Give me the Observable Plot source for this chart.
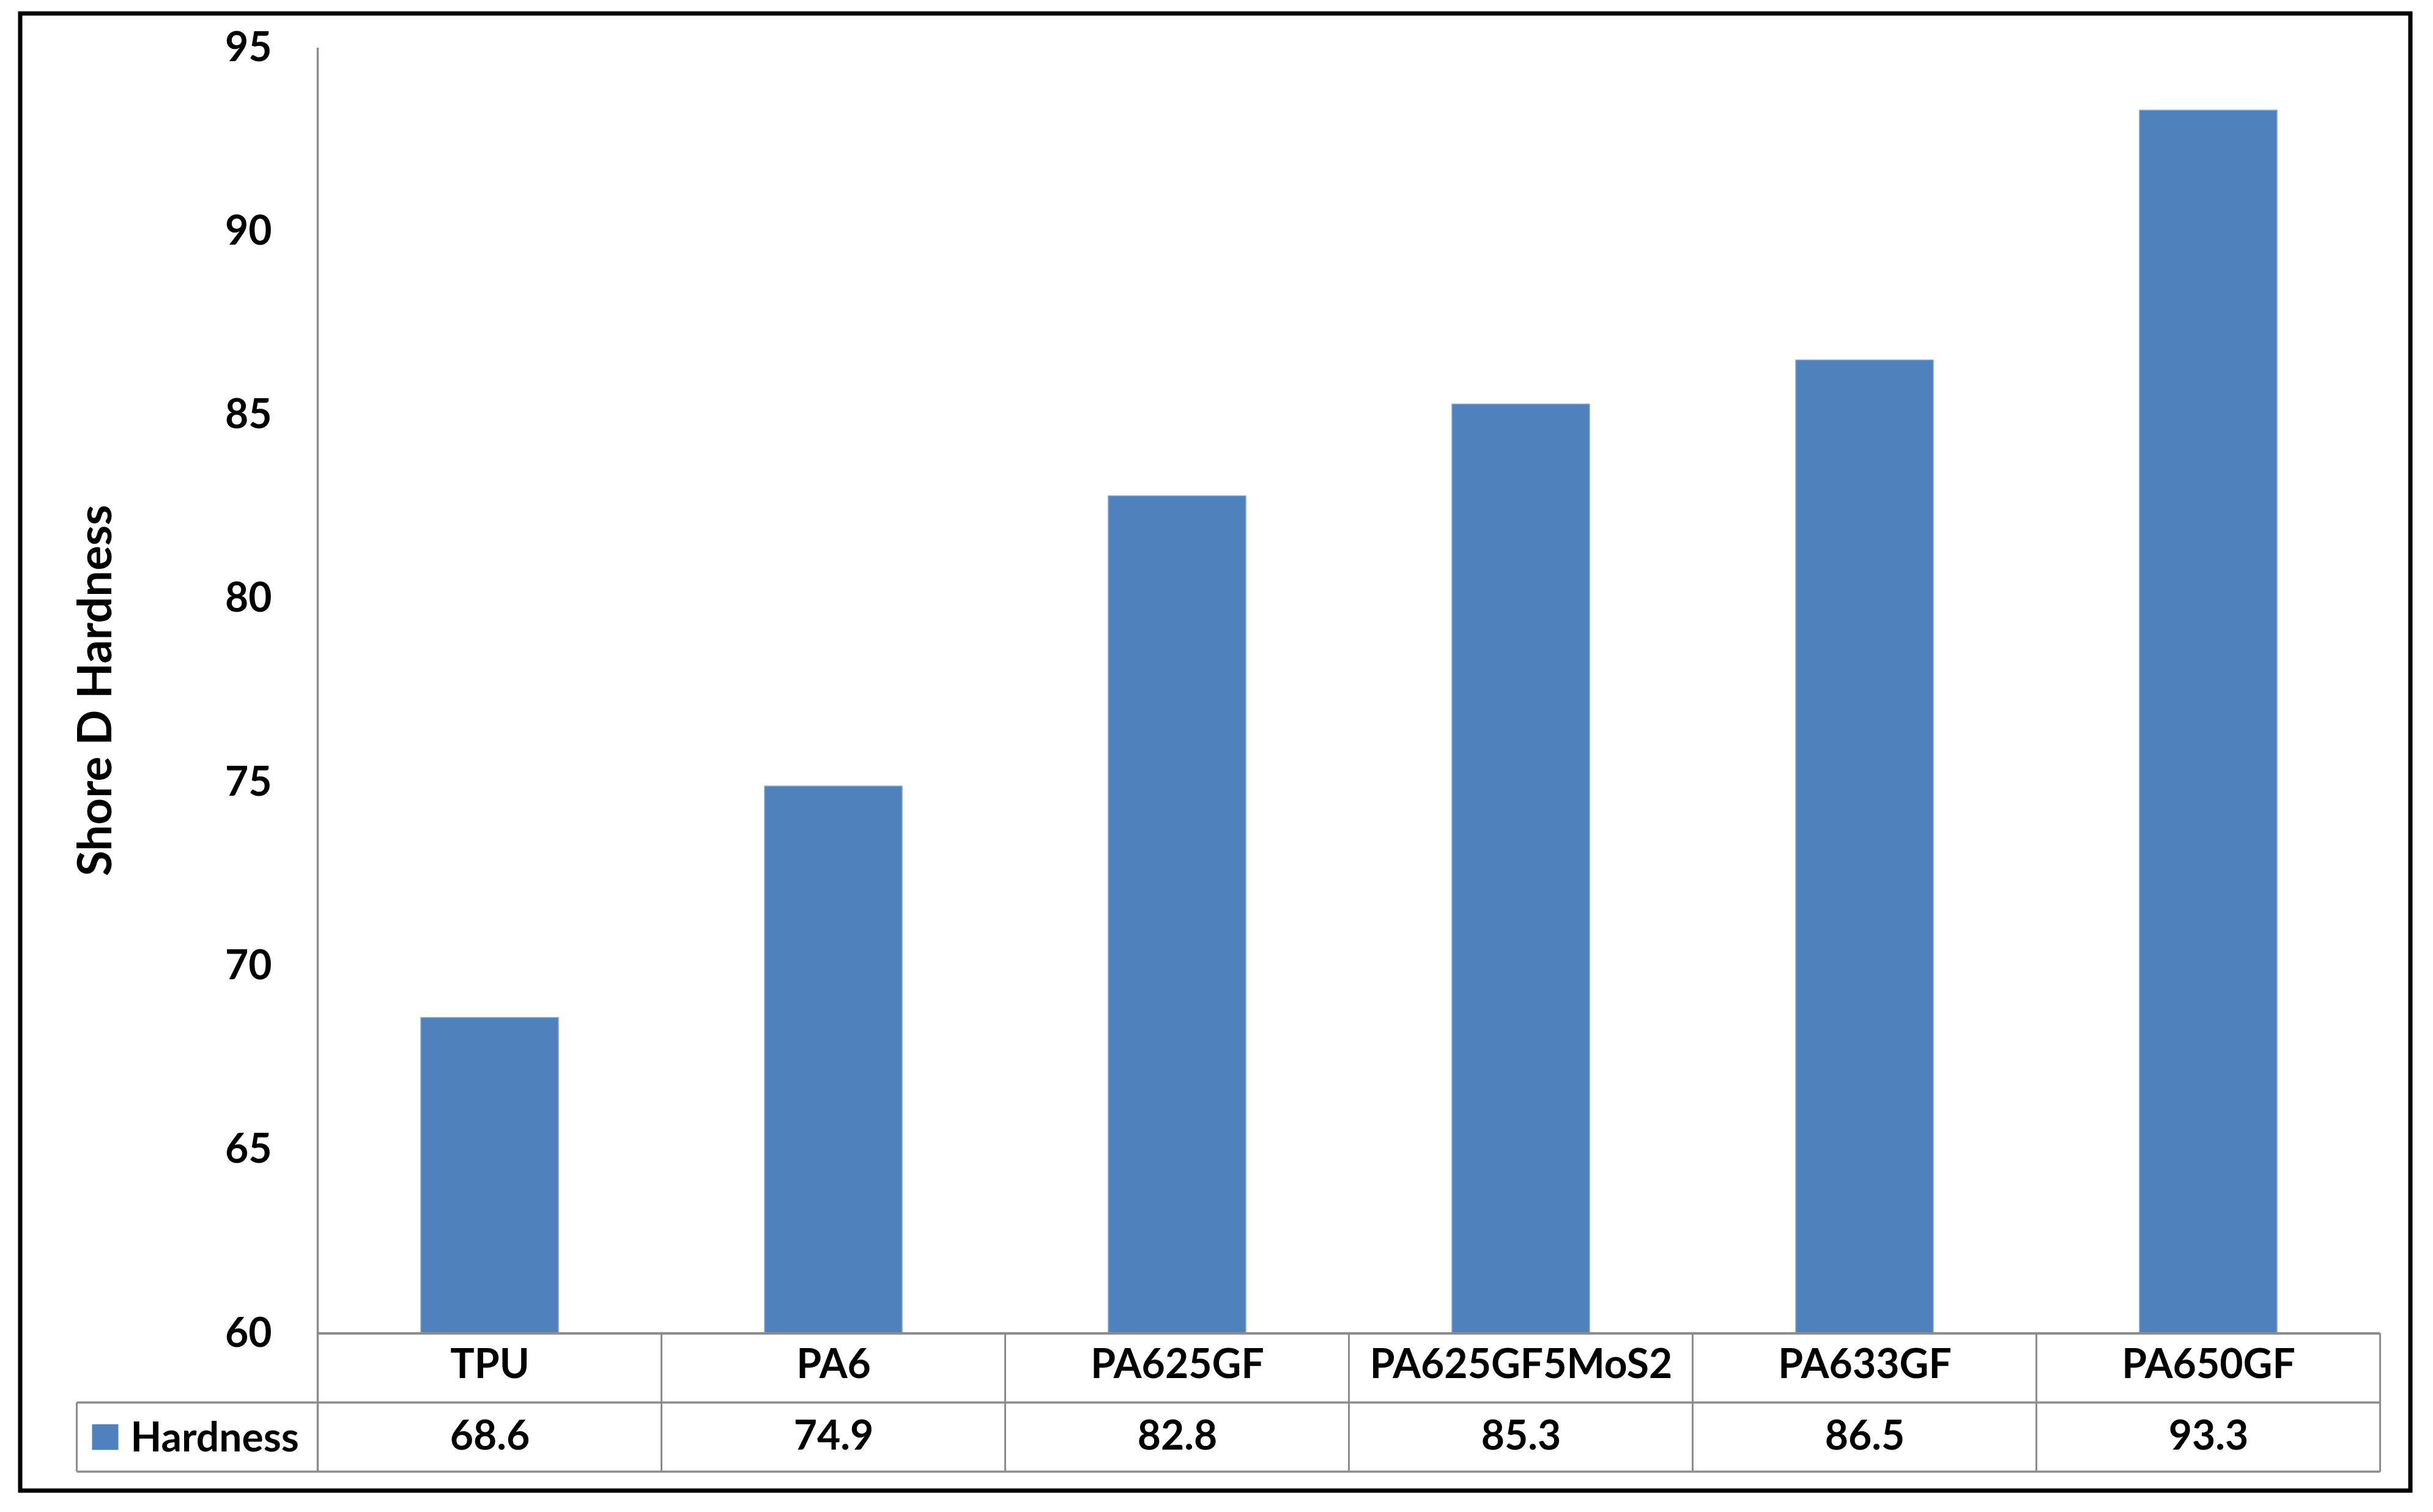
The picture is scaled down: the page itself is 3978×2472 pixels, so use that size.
<!DOCTYPE html>
<html><head><meta charset="utf-8">
<script src="https://cdn.jsdelivr.net/npm/d3@7"></script>
<script src="https://cdn.jsdelivr.net/npm/@observablehq/plot@0.6"></script>
<style>
html,body{margin:0;padding:0;background:#fff;}
#chart{width:3978px;height:2472px;}
svg{overflow:visible;}
</style></head><body><div id="chart"></div>
<script>
// ---- data ----
const categories = ["TPU", "PA6", "PA625GF", "PA625GF5MoS2", "PA633GF", "PA650GF"];
const hardness = [68.6, 74.9, 82.8, 85.3, 86.5, 93.3];
const yTicks = [60, 65, 70, 75, 80, 85, 90, 95];
const yDomain = [60, 95];
const seriesName = "Hardness";
const yLabel = "Shore D Hardness";

const data = categories.map((c, i) => ({category: c, value: hardness[i]}));
const valueOf = new Map(data.map(d => [d.category, d.value]));

// ---- style ----
const W = 3978, H = 2472;
const font = "Lato, 'Open Sans', sans-serif";
const blue = "#4F81BD", lineGray = "#8C8C8C";
const rowH = 113, legendW = 394;

const plot = Plot.plot({
  width: W, height: H,
  marginLeft: 518, marginRight: 86, marginTop: 78, marginBottom: 292,
  style: {fontFamily: font, fontSize: "66px", fontWeight: "bold", color: "#000", background: "#fff", overflow: "visible"},
  x: {domain: categories, paddingInner: 0.6, paddingOuter: 0.3},
  y: {domain: yDomain},
  marks: [
    Plot.barY(data, {x: "category", y1: () => yDomain[0], y2: "value", fill: blue, stroke: "#86A8D6", strokeWidth: 1.5}),
    Plot.axisY({ticks: yTicks, tickSize: 0, tickPadding: 74, label: null, fontSize: 66, fontWeight: "bold", fill: "#000"}),
    Plot.axisX({tickSize: 0, tickPadding: 26, label: null, fontSize: 66, fontWeight: "bold", fill: "#000"}),
    Plot.axisX({tickSize: 0, tickPadding: 143, label: null, fontSize: 66, fontWeight: "bold", fill: "#000",
      tickFormat: d => valueOf.get(d).toFixed(1)})
  ]
});
document.getElementById("chart").appendChild(plot);

// ---- data table grid, legend, axis title, border ----
const svg = d3.select(plot);
const xs = plot.scale("x"), ys = plot.scale("y");
const step = xs.step, bw = xs.bandwidth;
const edges = categories.map(c => xs.apply(c) - (step - bw) / 2);
edges.push(edges[edges.length - 1] + step);
const y0 = ys.apply(yDomain[0]), yTop = ys.apply(yDomain[1]);
const xL = edges[0], xR = edges[edges.length - 1];
const legL = xL - legendW;
const g = svg.append("g").attr("stroke", lineGray).attr("fill", "none");
// y axis line
g.append("line").attr("x1", xL).attr("x2", xL).attr("y1", yTop).attr("y2", y0 + 2 * rowH).attr("stroke-width", 3.5);
// baseline
g.append("line").attr("x1", xL).attr("x2", xR).attr("y1", y0).attr("y2", y0).attr("stroke-width", 4);
// row lines
g.append("line").attr("x1", legL).attr("x2", xR).attr("y1", y0 + rowH).attr("y2", y0 + rowH).attr("stroke-width", 3.5);
g.append("line").attr("x1", legL).attr("x2", xR).attr("y1", y0 + 2 * rowH).attr("y2", y0 + 2 * rowH).attr("stroke-width", 3.5);
// vertical dividers
edges.slice(1).forEach(e => g.append("line").attr("x1", e).attr("x2", e).attr("y1", y0).attr("y2", y0 + 2 * rowH).attr("stroke-width", 3));
g.append("line").attr("x1", legL).attr("x2", legL).attr("y1", y0 + rowH).attr("y2", y0 + 2 * rowH).attr("stroke-width", 3);
// legend
const rowMid = y0 + 1.5 * rowH;
svg.append("rect").attr("x", legL + 25).attr("y", rowMid - 21).attr("width", 43).attr("height", 42).attr("fill", blue);
svg.append("text").attr("x", legL + 88).attr("y", rowMid).attr("dy", "0.35em").attr("text-anchor", "start")
  .attr("font-family", font).attr("font-size", 66).attr("font-weight", "bold").attr("fill", "#000").text(seriesName);
// y title
svg.append("text").attr("transform", `translate(155,${(yTop + y0) / 2}) rotate(-90)`)
  .attr("text-anchor", "middle").attr("dy", "0.35em")
  .attr("font-family", font).attr("font-size", 76).attr("font-weight", "bold").attr("fill", "#000").text(yLabel);
// outer border
svg.append("rect").attr("x", 33).attr("y", 22).attr("width", 3908).attr("height", 2415)
  .attr("fill", "none").attr("stroke", "#000").attr("stroke-width", 7);
</script></body></html>
